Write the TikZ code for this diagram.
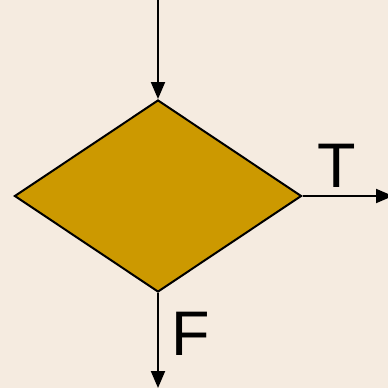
\documentclass[tikz,border=0pt]{standalone}
\usepackage{fontspec}
\setmainfont{Liberation Sans}
\usetikzlibrary{shapes.geometric,arrows.meta}
\definecolor{bg}{RGB}{245,235,224}
\definecolor{gold}{RGB}{204,153,0}
\tikzset{
  flow/.style={line width=2pt,-{Triangle[length=17pt,width=14pt]}},
  decision/.style={diamond,draw=black,line width=2pt,fill=gold,inner sep=0pt,minimum width=287pt,minimum height=192pt,aspect=1.5},
  lbl/.style={font=\fontsize{63}{63}\selectfont,inner sep=0pt,anchor=base}
}
\begin{document}
\begin{tikzpicture}[x=1pt,y=-1pt]
\fill[bg] (0,0) rectangle (388,388);
\useasboundingbox (0,0) rectangle (388,388);
\node[decision] (d) at (158,196) {};
\coordinate (top) at (158,0);
\coordinate (rend) at (393,196);
\coordinate (bend) at (158,388);
\draw[flow] (top) -- (d.north);
\draw[flow] (d.east) -- (rend);
\draw[flow] (d.south) -- (bend);
\node[lbl] (t) at (337,187) {T};
\node[lbl] (f) at (191,355) {F};
\end{tikzpicture}
\end{document}
